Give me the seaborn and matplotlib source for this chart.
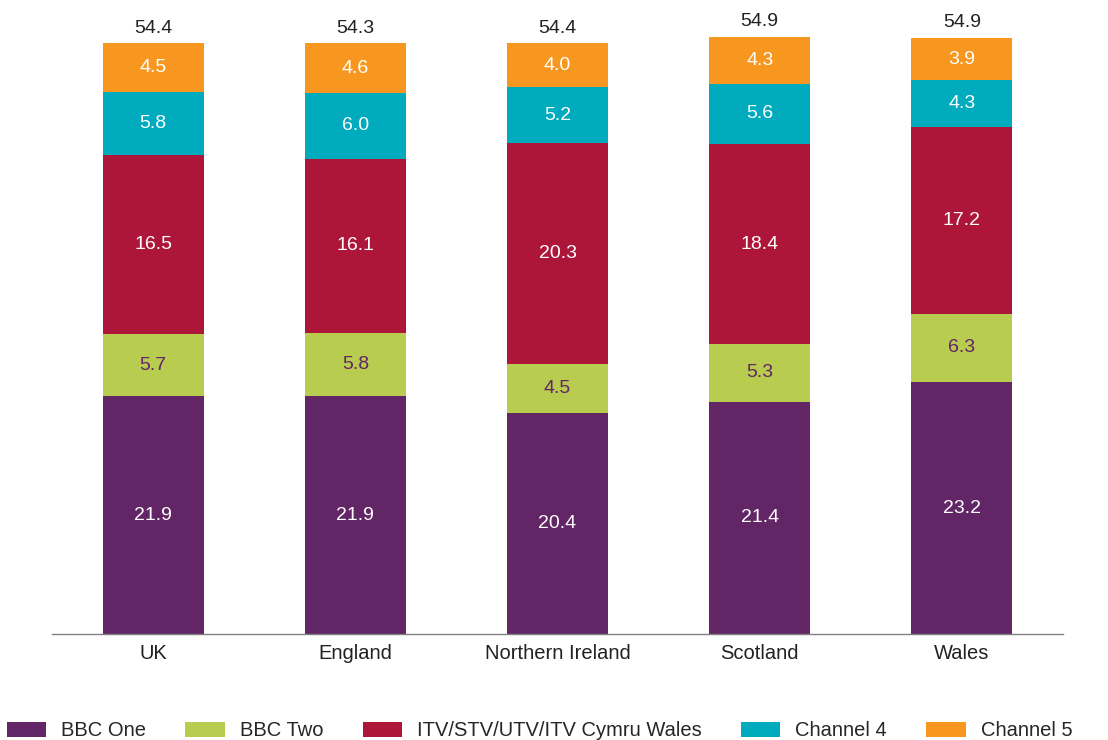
import numpy as np
import pandas as pd
import seaborn as sns
import matplotlib.pyplot as plt
from matplotlib.patches import Patch

regions = ["UK", "England", "Northern Ireland", "Scotland", "Wales"]
channels = ["BBC One", "BBC Two", "ITV/STV/UTV/ITV Cymru Wales", "Channel 4", "Channel 5"]
bbc_one = [21.9, 21.9, 20.4, 21.4, 23.2]
bbc_two = [5.7, 5.8, 4.5, 5.3, 6.3]
itv = [16.5, 16.1, 20.3, 18.4, 17.2]
channel_4 = [5.8, 6.0, 5.2, 5.6, 4.3]
channel_5 = [4.5, 4.6, 4.0, 4.3, 3.9]
totals = [54.4, 54.3, 54.4, 54.9, 54.9]

colors = ["#622565", "#b8cc4f", "#ad1639", "#00abbe", "#f7971f"]
label_colors = ["white", "#622565", "white", "white", "white"]

sns.set_theme(style="white")
plt.rcParams["font.family"] = ["Liberation Sans", "DejaVu Sans"]

df = pd.DataFrame({"region": regions})
series = [bbc_one, bbc_two, itv, channel_4, channel_5]
for name, vals in zip(channels, series):
    df[name] = vals

fig = plt.figure(figsize=(11.08, 7.40), dpi=100)
ax = fig.add_axes([52 / 1108, 106 / 740, 1011 / 1108, 634 / 740])

# stacked bars drawn from the top segment down
cum = df[channels].cumsum(axis=1)
for i in range(len(channels) - 1, -1, -1):
    sns.barplot(x=df["region"], y=cum[channels[i]], color=colors[i],
                width=0.5, saturation=1, ax=ax, linewidth=0)

ax.set_ylim(0, 58.4)
ax.set_xlim(-0.5, 4.5)
ax.set_xlabel("")
ax.set_ylabel("")
ax.set_yticks([])
for s in ["top", "right", "left"]:
    ax.spines[s].set_visible(False)
ax.spines["bottom"].set_color("#808080")
ax.spines["bottom"].set_linewidth(1)
ax.tick_params(axis="x", length=0, labelsize=14.5, colors="#222222", pad=7)

for j in range(len(regions)):
    base = 0
    for i, name in enumerate(channels):
        v = df[name][j]
        ax.text(j, base + v / 2, f"{v:.1f}", ha="center", va="center",
                color=label_colors[i], fontsize=14)
        base += v
    ax.text(j, base + 0.6, f"{totals[j]:.1f}", ha="center", va="bottom",
            color="#222222", fontsize=14)

handles = [Patch(facecolor=c, edgecolor="none") for c in colors]
fig.legend(handles, channels, loc="center", bbox_to_anchor=(0.487, 9 / 740),
           ncol=5, frameon=False, fontsize=14.5, handlelength=1.95, handleheight=0.8,
           columnspacing=1.95, handletextpad=0.75, borderpad=0, borderaxespad=0)

fig.savefig("out.png", dpi=100)
